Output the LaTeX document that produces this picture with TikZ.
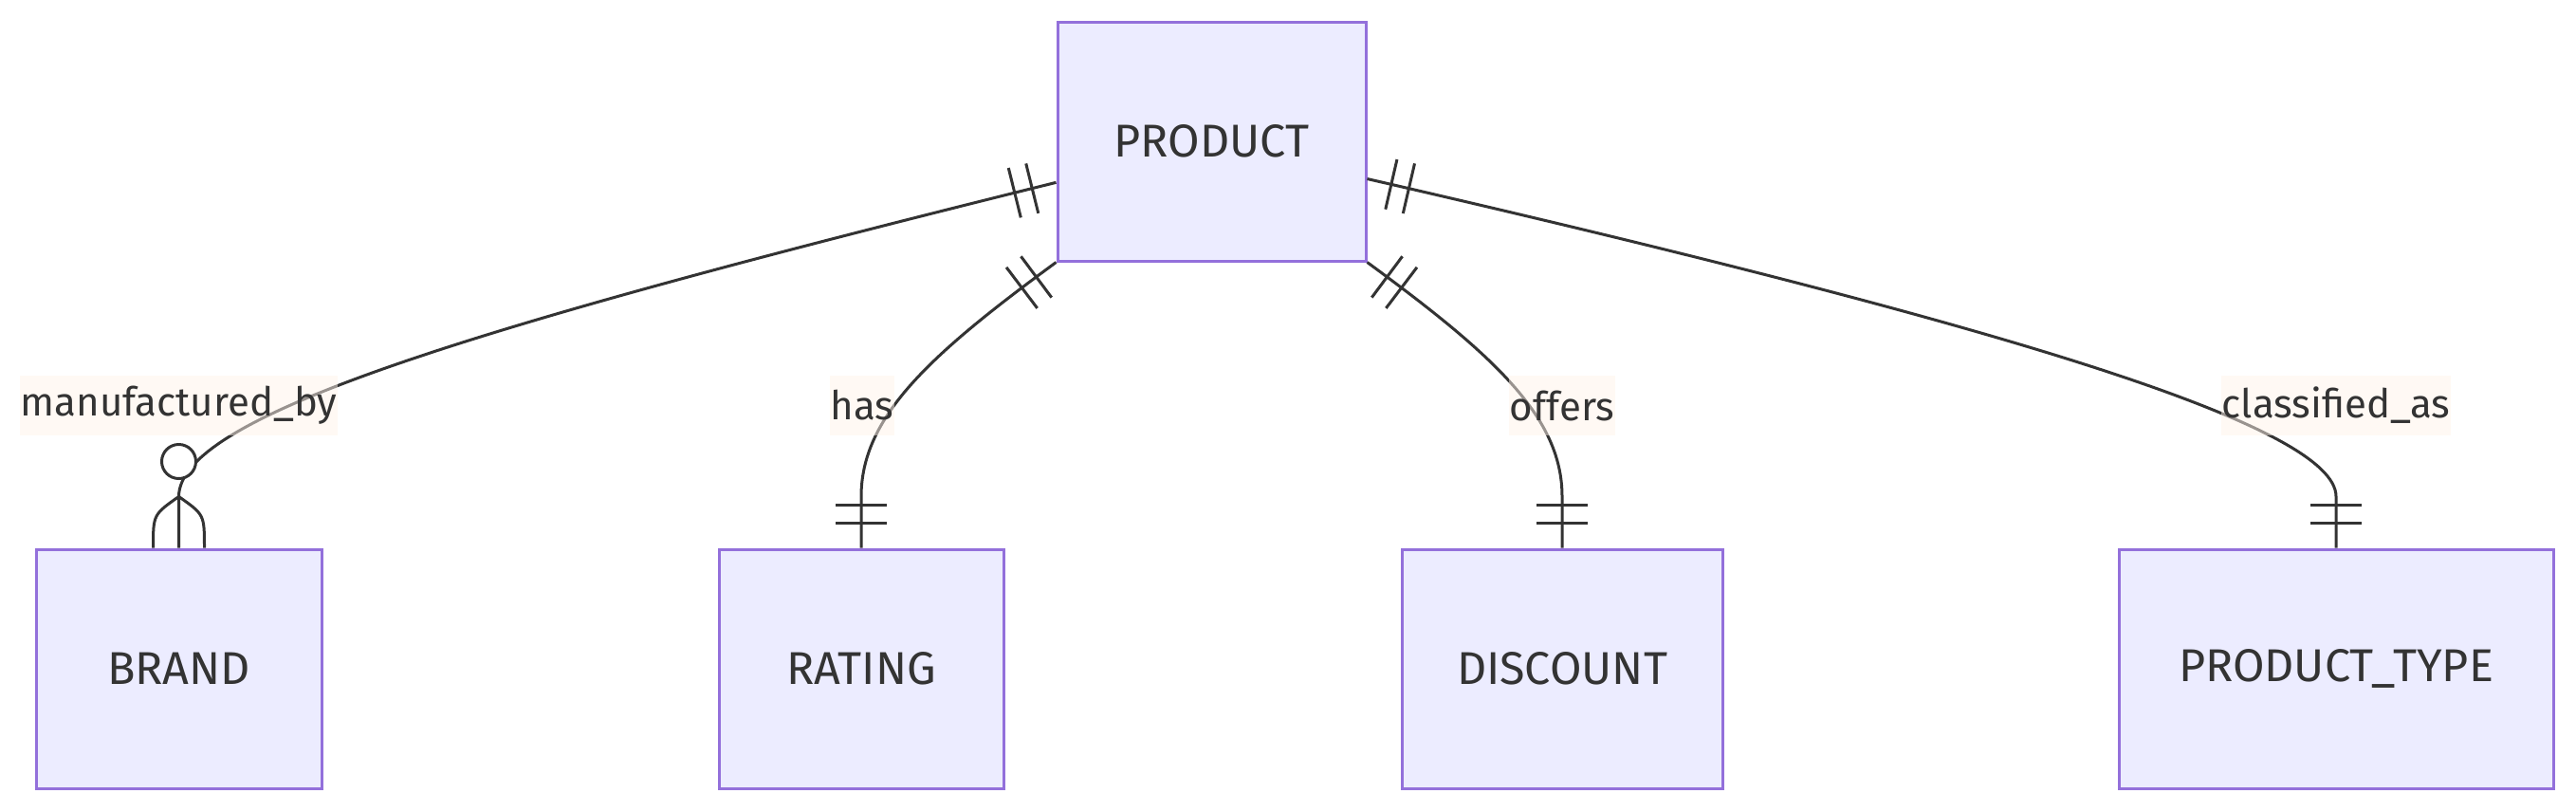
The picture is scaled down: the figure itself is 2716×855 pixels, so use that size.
\documentclass[tikz,border=0pt]{standalone}
\usepackage{fontspec}
\setmainfont{Fira Sans}
\usetikzlibrary{calc,decorations.markings}
\definecolor{ink}{HTML}{333333}
\definecolor{entfill}{HTML}{ECECFF}
\definecolor{entdraw}{HTML}{9370DB}
\definecolor{lblfill}{RGB}{255,244,235}
\tikzset{
  ent/.style={draw=entdraw, fill=entfill, line width=3pt, text=ink, minimum height=252pt, inner sep=0pt, font=\fontsize{48.5}{56}\selectfont},
  rel/.style={draw=ink, line width=3pt},
  lbl/.style={fill=lblfill, fill opacity=0.5, text opacity=1, text=ink, inner xsep=1pt, inner ysep=0pt, minimum height=63pt, font=\fontsize{42}{50}\selectfont},
  startone/.style={postaction={decorate, decoration={markings,
      mark=at position 26pt with {\draw[ink, line width=3pt] (0pt,-27pt)--(0pt,27pt);},
      mark=at position 45pt with {\draw[ink, line width=3pt] (0pt,-27pt)--(0pt,27pt);}}}},
  endone/.style={postaction={decorate, decoration={markings,
      mark=at position -26pt with {\draw[ink, line width=3pt] (0pt,-27pt)--(0pt,27pt);},
      mark=at position -45pt with {\draw[ink, line width=3pt] (0pt,-27pt)--(0pt,27pt);}}}},
}
\begin{document}
\begin{tikzpicture}[x=1pt,y=-1pt]
\useasboundingbox[fill=white] (0,0) rectangle (2716,855);
% entities
\node[ent, minimum width=325pt] (P) at (1277.5,149) {PRODUCT};
\node[ent, minimum width=301pt] (B) at (188.5,705) {BRAND};
\node[ent, minimum width=300pt] (R) at (908,705) {RATING};
\node[ent, minimum width=338pt] (D) at (1647,705) {DISCOUNT};
\node[ent, minimum width=458pt] (T) at (2463,705) {PRODUCT\_TYPE};
% anchor points on PRODUCT
\coordinate (pl) at ($(P.west)!0.34!(P.south west)$);
\coordinate (pr) at ($(P.east)!0.31!(P.south east)$);
% connectors
\draw[rel, startone] (pl) .. controls (484,348) and (189,440) .. ($(B.north)+(0,-54)$) -- (B.north);
\draw[rel, startone, endone] (P.south west) .. controls (979,375) and (908,440) .. ($(R.north)+(0,-54)$) -- (R.north);
\draw[rel, startone, endone] (P.south east) .. controls (1576,375) and (1647,440) .. ($(D.north)+(0,-54)$) -- (D.north);
\draw[rel, startone, endone] (pr) .. controls (2122,345) and (2463,450) .. ($(T.north)+(0,-54)$) -- (T.north);
% zero-or-more marker at BRAND
\coordinate (bapex) at ($(B.north)+(0,-54)$);
\draw[rel] (bapex) .. controls ($(B.north)+(-27,-35)$) .. ($(B.north)+(-27,0)$);
\draw[rel] (bapex) .. controls ($(B.north)+(27,-35)$) .. ($(B.north)+(27,0)$);
\draw[rel, fill=white] ($(B.north)+(0,-91)$) circle (18pt);
% labels
\node[lbl] (l1) at (188.5,427.5) {manufactured\_by};
\node[lbl] (l2) at (909,427.5) {has};
\node[lbl] (l3) at (1647,427.5) {offers};
\node[lbl] (l4) at (2463,427.5) {classified\_as};
\end{tikzpicture}
\end{document}
